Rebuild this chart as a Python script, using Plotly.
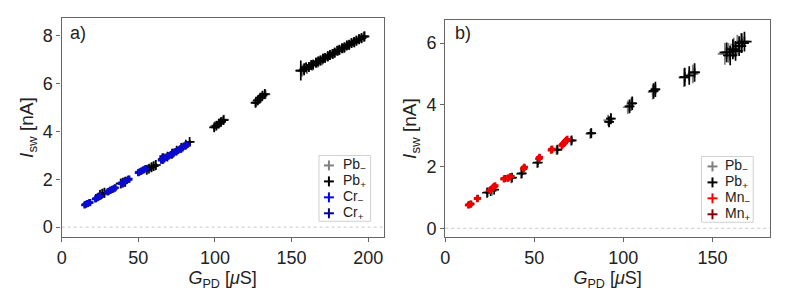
import plotly.graph_objects as go

# ---------------- Panel a data ----------------
a_pbm_g = [25.5, 27.5, 39.0, 41.0, 56.0, 59.0, 61.0, 67.0, 73.0, 79.0, 100.0, 103.0, 106.0,
           127.0, 130.0, 133.0, 157.0, 160.0, 163.5, 167.0, 170.0, 173.5, 177.0, 180.5,
           184.0, 187.5, 191.0, 194.0, 197.0]
a_pbm_i = [1.37, 1.42, 1.84, 1.89, 2.42, 2.52, 2.58, 2.88, 3.10, 3.34, 4.22, 4.35, 4.50,
           5.25, 5.40, 5.55, 6.55, 6.62, 6.75, 6.88, 6.98, 7.12, 7.25, 7.38,
           7.48, 7.62, 7.72, 7.85, 7.95]
a_pbm_gerr = [1.0, 1.0, 1.0, 1.0, 1.2, 1.2, 1.2, 1.5, 1.5, 1.5, 1.8, 1.8, 1.8,
              2.0, 2.0, 2.0, 2.5, 2.5, 2.5, 2.5, 2.5, 2.5, 2.5, 2.5,
              2.5, 2.5, 2.5, 2.5, 2.5]
a_pbm_ierr = [0.04, 0.04, 0.05, 0.05, 0.06, 0.06, 0.06, 0.07, 0.07, 0.07, 0.14, 0.14, 0.14,
              0.16, 0.16, 0.16, 0.25, 0.20, 0.20, 0.20, 0.20, 0.20, 0.20, 0.20,
              0.20, 0.20, 0.20, 0.20, 0.20]

a_pbp_g = [25.0, 26.5, 28.0, 38.5, 40.0, 41.5, 55.5, 57.0, 58.5, 60.0, 61.5,
           66.0, 69.0, 72.0, 75.0, 78.0, 81.0, 83.5,
           99.5, 101.0, 102.5, 104.0, 105.5,
           126.5, 128.0, 129.5, 131.0, 132.5,
           156.0, 158.2, 159.5, 161.3, 162.8, 164.1, 165.9, 167.4, 168.8, 170.5, 171.9,
           173.6, 175.0, 176.7, 178.1, 179.8, 181.2, 182.9, 184.5, 186.0, 187.6, 189.1,
           190.8, 192.3, 194.0, 195.6, 197.5]
a_pbp_i = [1.35, 1.40, 1.44, 1.82, 1.86, 1.90, 2.40, 2.45, 2.50, 2.55, 2.60,
           2.85, 2.95, 3.07, 3.20, 3.32, 3.45, 3.57,
           4.17, 4.25, 4.33, 4.40, 4.48,
           5.20, 5.30, 5.42, 5.50, 5.57,
           6.55, 6.60, 6.68, 6.70, 6.78, 6.80, 6.88, 6.93, 6.97, 7.05, 7.08,
           7.15, 7.20, 7.25, 7.30, 7.38, 7.42, 7.48, 7.52, 7.60, 7.63, 7.70,
           7.75, 7.80, 7.86, 7.90, 7.98]
a_pbp_gerr = [1.0, 1.0, 1.0, 1.0, 1.0, 1.0, 1.2, 1.2, 1.2, 1.2, 1.2,
              1.5, 1.5, 1.5, 1.5, 1.5, 1.5, 1.8,
              1.8, 1.8, 1.8, 1.8, 1.8,
              2.0, 2.0, 2.0, 2.0, 2.0,
              3.5, 2.5, 2.5, 2.5, 2.5, 2.5, 2.5, 2.5, 2.5, 2.5, 2.5,
              2.5, 2.5, 2.5, 2.5, 2.5, 2.5, 2.5, 2.5, 2.5, 2.5, 2.5,
              2.5, 2.5, 2.5, 2.5, 2.5]
a_pbp_ierr = [0.04, 0.04, 0.04, 0.05, 0.05, 0.05, 0.06, 0.06, 0.06, 0.06, 0.06,
              0.07, 0.07, 0.07, 0.07, 0.07, 0.07, 0.09,
              0.14, 0.14, 0.14, 0.14, 0.14,
              0.16, 0.16, 0.16, 0.16, 0.16,
              0.42, 0.25, 0.20, 0.20, 0.20, 0.20, 0.20, 0.20, 0.20, 0.20, 0.20,
              0.20, 0.20, 0.20, 0.20, 0.20, 0.20, 0.20, 0.20, 0.20, 0.20, 0.20,
              0.20, 0.20, 0.20, 0.20, 0.20]

a_crm_g = [15.0, 16.5, 18.0, 22.0, 23.5, 25.0, 30.0, 31.5, 33.0, 34.5, 39.0, 40.5, 42.0, 43.5,
           50.0, 51.5, 53.0, 54.5, 65.0, 66.5, 68.0, 69.5, 71.0, 72.5, 74.0, 75.5, 77.0,
           78.5, 80.0, 81.5]
a_crm_i = [0.93, 0.98, 1.02, 1.18, 1.24, 1.30, 1.47, 1.53, 1.58, 1.63, 1.82, 1.88, 1.94, 2.00,
           2.28, 2.33, 2.38, 2.43, 2.80, 2.86, 2.91, 2.97, 3.02, 3.08, 3.14, 3.20, 3.26,
           3.32, 3.38, 3.44]
a_crp_g = [15.5, 17.0, 18.5, 22.5, 24.0, 25.5, 30.5, 32.0, 33.5, 35.0, 39.5, 41.0, 42.5, 44.0,
           50.5, 52.0, 53.5, 55.0, 65.5, 66.0, 67.0, 68.5, 70.0, 71.5, 73.0, 74.5, 76.0,
           77.5, 79.0, 80.5, 82.0]
a_crp_i = [0.95, 0.99, 1.03, 1.20, 1.26, 1.31, 1.49, 1.55, 1.60, 1.65, 1.84, 1.90, 1.96, 2.01,
           2.30, 2.35, 2.40, 2.45, 2.82, 2.95, 2.88, 2.93, 2.99, 3.04, 3.10, 3.16, 3.22,
           3.28, 3.34, 3.40, 3.46]

# ---------------- Panel b data ----------------
b_pbm_g = [24.0, 26.5, 37.0, 42.5, 51.5, 62.5, 70.5, 81.5, 91.5, 102.5, 104.5, 116.5,
           134.0, 139.0, 157.0, 159.0, 162.0, 164.0, 166.0]
b_pbm_i = [1.17, 1.22, 1.62, 1.76, 2.11, 2.53, 2.83, 3.06, 3.50, 3.92, 4.02, 4.42,
           4.88, 5.00, 5.65, 5.68, 5.85, 5.95, 6.00]
b_pbm_gerr = [1.0, 1.0, 1.2, 1.5, 1.5, 1.8, 1.8, 2.0, 2.0, 2.2, 2.2, 2.5,
              3.0, 3.0, 4.0, 4.0, 4.0, 4.0, 4.0]
b_pbm_ierr = [0.05, 0.05, 0.06, 0.07, 0.08, 0.10, 0.10, 0.15, 0.18, 0.22, 0.22, 0.25,
              0.30, 0.30, 0.35, 0.32, 0.32, 0.32, 0.32]

b_pbp_g = [23.5, 25.5, 27.5, 37.5, 43.0, 52.0, 63.0, 71.0, 82.0, 92.0, 93.0, 103.5, 105.0,
           117.0, 118.0, 134.5, 137.0, 140.0, 158.0, 160.0, 161.5, 163.0, 165.0, 166.5, 168.0]
b_pbp_i = [1.15, 1.20, 1.25, 1.64, 1.78, 2.13, 2.55, 2.85, 3.08, 3.45, 3.55, 3.95, 4.05,
           4.45, 4.50, 4.90, 4.95, 5.05, 5.70, 5.60, 5.80, 5.75, 5.90, 6.00, 6.05]
b_pbp_gerr = [1.0, 1.0, 1.0, 1.2, 1.5, 1.5, 1.8, 1.8, 2.0, 2.0, 2.0, 2.2, 2.2,
              2.5, 2.5, 3.0, 3.0, 3.0, 4.0, 4.0, 4.0, 4.0, 4.0, 4.0, 4.0]
b_pbp_ierr = [0.05, 0.05, 0.05, 0.06, 0.07, 0.08, 0.10, 0.10, 0.15, 0.18, 0.18, 0.22, 0.22,
              0.25, 0.25, 0.30, 0.30, 0.30, 0.32, 0.32, 0.32, 0.32, 0.32, 0.32, 0.32]

b_mnm_g = [13.0, 14.0, 18.0, 25.0, 27.0, 28.0, 33.0, 35.0, 36.5, 44.0, 44.5, 52.5, 53.0,
           59.5, 60.0, 65.5, 66.5, 67.5, 68.5]
b_mnm_i = [0.75, 0.78, 0.96, 1.22, 1.33, 1.38, 1.60, 1.62, 1.67, 1.93, 1.98, 2.25, 2.30,
           2.53, 2.57, 2.68, 2.75, 2.82, 2.88]
b_mnm_gerr = [0.8, 0.8, 0.5, 0.8, 1.0, 1.0, 2.0, 2.0, 2.0, 0.8, 0.8, 0.8, 0.8,
              0.8, 0.8, 0.8, 0.8, 0.8, 0.8]
b_mnp_g = [13.5, 14.5, 18.2, 25.5, 27.5, 33.5, 35.5, 37.0, 44.2, 52.8, 59.8, 66.0, 67.0, 68.0]
b_mnp_i = [0.76, 0.79, 0.97, 1.24, 1.35, 1.61, 1.63, 1.68, 1.95, 2.27, 2.55, 2.72, 2.78, 2.85]

# legend labels
legend_a = ["Pb<sub>−</sub>", "Pb<sub>+</sub>", "Cr<sub>−</sub>", "Cr<sub>+</sub>"]
legend_b = ["Pb<sub>−</sub>", "Pb<sub>+</sub>", "Mn<sub>−</sub>", "Mn<sub>+</sub>"]

# ---------------- styling ----------------
FONT = "Liberation Sans, Arial, DejaVu Sans, sans-serif"
TXT = "#222222"
FRAME = "#666666"
C_PBM, C_PBP = "#808080", "#000000"
C_CRM, C_CRP = "#0a0ad0", "#00008b"
C_MNM, C_MNP = "#ee0000", "#8b0000"

W, H = 788, 303
fig = go.Figure()


def add(xs, ys, xe, ye, color, name, xa, ya, lw=1.7, ms=7):
    fig.add_trace(go.Scatter(
        x=xs, y=ys, mode="markers", name=name, xaxis=xa, yaxis=ya, showlegend=False,
        marker=dict(symbol="cross-thin", size=ms, color=color,
                    line=dict(color=color, width=lw)),
        error_x=dict(type="data", array=xe, color=color, thickness=lw, width=0),
        error_y=dict(type="data", array=ye, color=color, thickness=lw, width=0),
    ))


def const(n, v):
    return [v] * n


# panel a
add(a_pbm_g, a_pbm_i, a_pbm_gerr, a_pbm_ierr, C_PBM, legend_a[0], "x", "y")
add(a_pbp_g, a_pbp_i, a_pbp_gerr, a_pbp_ierr, C_PBP, legend_a[1], "x", "y")
add(a_crp_g, a_crp_i, const(len(a_crp_g), 0.8), const(len(a_crp_g), 0.03), C_CRP,
    legend_a[3], "x", "y", 2.6, 5)
add(a_crm_g, a_crm_i, const(len(a_crm_g), 0.8), const(len(a_crm_g), 0.03), C_CRM,
    legend_a[2], "x", "y", 2.6, 5)

# panel b
add(b_pbm_g, b_pbm_i, b_pbm_gerr, b_pbm_ierr, C_PBM, legend_b[0], "x2", "y2")
add(b_pbp_g, b_pbp_i, b_pbp_gerr, b_pbp_ierr, C_PBP, legend_b[1], "x2", "y2")
add(b_mnp_g, b_mnp_i, const(len(b_mnp_g), 0.8), const(len(b_mnp_g), 0.03), C_MNP,
    legend_b[3], "x2", "y2", 2.6, 5)
add(b_mnm_g, b_mnm_i, b_mnm_gerr, const(len(b_mnm_g), 0.03), C_MNM,
    legend_b[2], "x2", "y2", 2.6, 5)

axis_common = dict(showline=True, linecolor=FRAME, linewidth=1.3, mirror=True,
                   ticks="outside", ticklen=4, tickcolor=FRAME, showgrid=False,
                   zeroline=False, tickfont=dict(size=18, color=TXT, family=FONT))

xtitle = dict(text="<i>G</i><sub>PD</sub> [<i>μ</i>S]", font=dict(size=18, color=TXT, family=FONT),
              standoff=2)
ytitle = dict(text="<i>I</i><sub>sw</sub> [nA]", font=dict(size=19, color=TXT, family=FONT),
              standoff=4)

shapes = [
    dict(type="line", xref="x domain", yref="y", x0=0, x1=1, y0=0, y1=0,
         line=dict(color="#c8c8c8", width=1, dash="dot"), layer="below"),
    dict(type="line", xref="x2 domain", yref="y2", x0=0, x1=1, y0=0, y1=0,
         line=dict(color="#c8c8c8", width=1, dash="dot"), layer="below"),
]
annotations = [
    dict(text="a)", xref="paper", yref="paper", x=63 / W, y=1 - 33 / H, xanchor="left",
         yanchor="middle", showarrow=False, font=dict(size=18, color=TXT, family=FONT)),
    dict(text="b)", xref="paper", yref="paper", x=451 / W, y=1 - 33 / H, xanchor="left",
         yanchor="middle", showarrow=False, font=dict(size=18, color=TXT, family=FONT)),
]


def legend_box(x0, y0, x1, y1, labels, colors, sym_x, txt_x, row_y):
    # box (pixel coords converted to paper)
    shapes.append(dict(type="rect", xref="paper", yref="paper",
                       x0=x0 / W, x1=x1 / W, y0=1 - y1 / H, y1=1 - y0 / H,
                       fillcolor="white", line=dict(color="#d0d0d0", width=1), layer="above"))
    for lab, col, yy in zip(labels, colors, row_y):
        shapes.append(dict(type="line", xref="paper", yref="paper",
                           x0=(sym_x - 5) / W, x1=(sym_x + 5) / W, y0=1 - yy / H, y1=1 - yy / H,
                           line=dict(color=col, width=2), layer="above"))
        shapes.append(dict(type="line", xref="paper", yref="paper",
                           x0=sym_x / W, x1=sym_x / W, y0=1 - (yy - 5) / H, y1=1 - (yy + 5) / H,
                           line=dict(color=col, width=2), layer="above"))
        annotations.append(dict(text=lab, xref="paper", yref="paper", x=txt_x / W, y=1 - yy / H,
                                xanchor="left", yanchor="middle", showarrow=False,
                                font=dict(size=14, color=TXT, family=FONT)))


legend_box(316, 156, 368, 222, legend_a, [C_PBM, C_PBP, "#0000ff", C_CRP], 326, 338,
           [166, 182, 198, 214])
legend_box(701, 157, 753, 223, legend_b, [C_PBM, C_PBP, "#ff0000", C_MNP], 712, 723,
           [167, 183, 199, 215])

fig.update_layout(
    width=W, height=H, margin=dict(l=0, r=0, t=0, b=0),
    paper_bgcolor="white", plot_bgcolor="white", showlegend=False,
    font=dict(family=FONT, color=TXT),
    xaxis=dict(domain=[57 / W, 381 / W], range=[0, 210], tickvals=[0, 50, 100, 150, 200],
               title=xtitle, anchor="y", **axis_common),
    yaxis=dict(domain=[1 - 238 / H, 1 - 18 / H], range=[-0.42, 8.75], tickvals=[0, 2, 4, 6, 8],
               title=ytitle, anchor="x", **axis_common),
    xaxis2=dict(domain=[443 / W, 770 / W], range=[0, 182.4], tickvals=[0, 50, 100, 150],
                title=xtitle, anchor="y2", **axis_common),
    yaxis2=dict(domain=[1 - 238 / H, 1 - 20 / H], range=[-0.29, 6.75], tickvals=[0, 2, 4, 6],
                title=ytitle, anchor="x2", **axis_common),
    shapes=shapes,
    annotations=annotations,
)

fig.write_html("out.html", config={"displayModeBar": False},
               post_script="document.body.style.margin='0';document.body.style.overflow='hidden';")
